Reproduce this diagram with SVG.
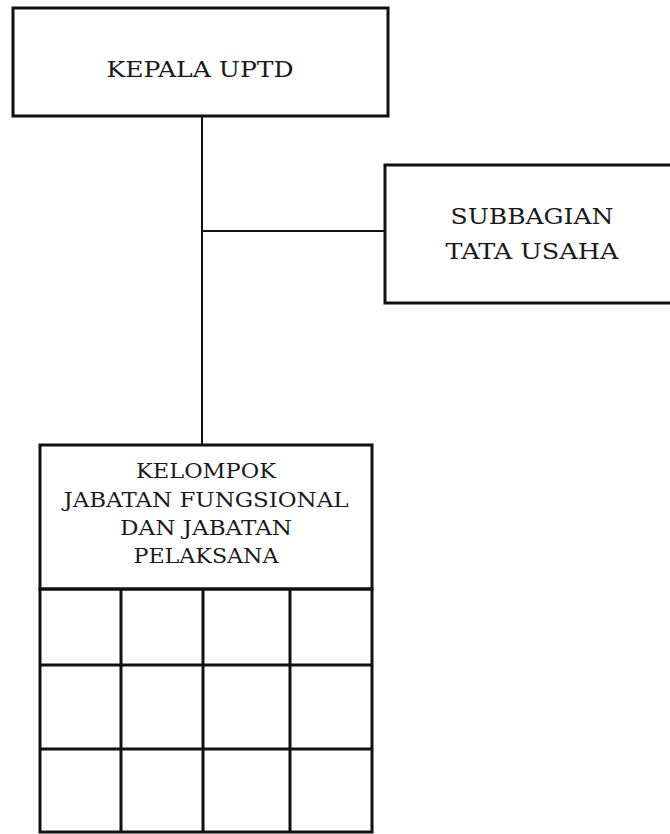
<svg xmlns="http://www.w3.org/2000/svg" width="670" height="834" viewBox="0 0 670 834">
<style>
.box{fill:#fff;stroke:#111;stroke-width:3}
.ln{stroke:#111;stroke-width:2;fill:none}
.grid{stroke:#111;stroke-width:3;fill:none}
.t{font-family:"DejaVu Serif","Liberation Serif",serif;fill:#1a1a1a;text-anchor:middle}
.big{font-size:23px}
.mid{font-size:19.5px}
</style>
<rect width="670" height="834" fill="#fff"/>
<g id="connectors">
<line class="ln" x1="202" y1="116" x2="202" y2="445"/>
<line class="ln" x1="202" y1="231" x2="385" y2="231"/>
</g>
<g id="kepala">
<rect class="box" x="13" y="8" width="375" height="108"/>
<text class="t big" x="200" y="77" textLength="187" lengthAdjust="spacingAndGlyphs">KEPALA UPTD</text>
</g>
<g id="subbagian">
<rect class="box" x="385" y="165" width="290" height="138"/>
<text class="t big" x="532" y="224" textLength="163" lengthAdjust="spacingAndGlyphs">SUBBAGIAN</text>
<text class="t big" x="532" y="259" textLength="173" lengthAdjust="spacingAndGlyphs">TATA USAHA</text>
</g>
<g id="kelompok">
<rect class="box" x="40" y="445" width="332" height="144"/>
<text class="t mid" x="206" y="478" textLength="140" lengthAdjust="spacingAndGlyphs">KELOMPOK</text>
<text class="t mid" x="206" y="507" textLength="285" lengthAdjust="spacingAndGlyphs">JABATAN FUNGSIONAL</text>
<text class="t mid" x="206" y="535" textLength="172" lengthAdjust="spacingAndGlyphs">DAN JABATAN</text>
<text class="t mid" x="206" y="563" textLength="145" lengthAdjust="spacingAndGlyphs">PELAKSANA</text>
</g>
<g id="grid">
<rect class="grid" x="40" y="589" width="332" height="243"/>
<line class="grid" x1="121" y1="589" x2="121" y2="832"/>
<line class="grid" x1="203" y1="589" x2="203" y2="832"/>
<line class="grid" x1="290" y1="589" x2="290" y2="832"/>
<line class="grid" x1="40" y1="665" x2="372" y2="665"/>
<line class="grid" x1="40" y1="749" x2="372" y2="749"/>
</g>
</svg>
